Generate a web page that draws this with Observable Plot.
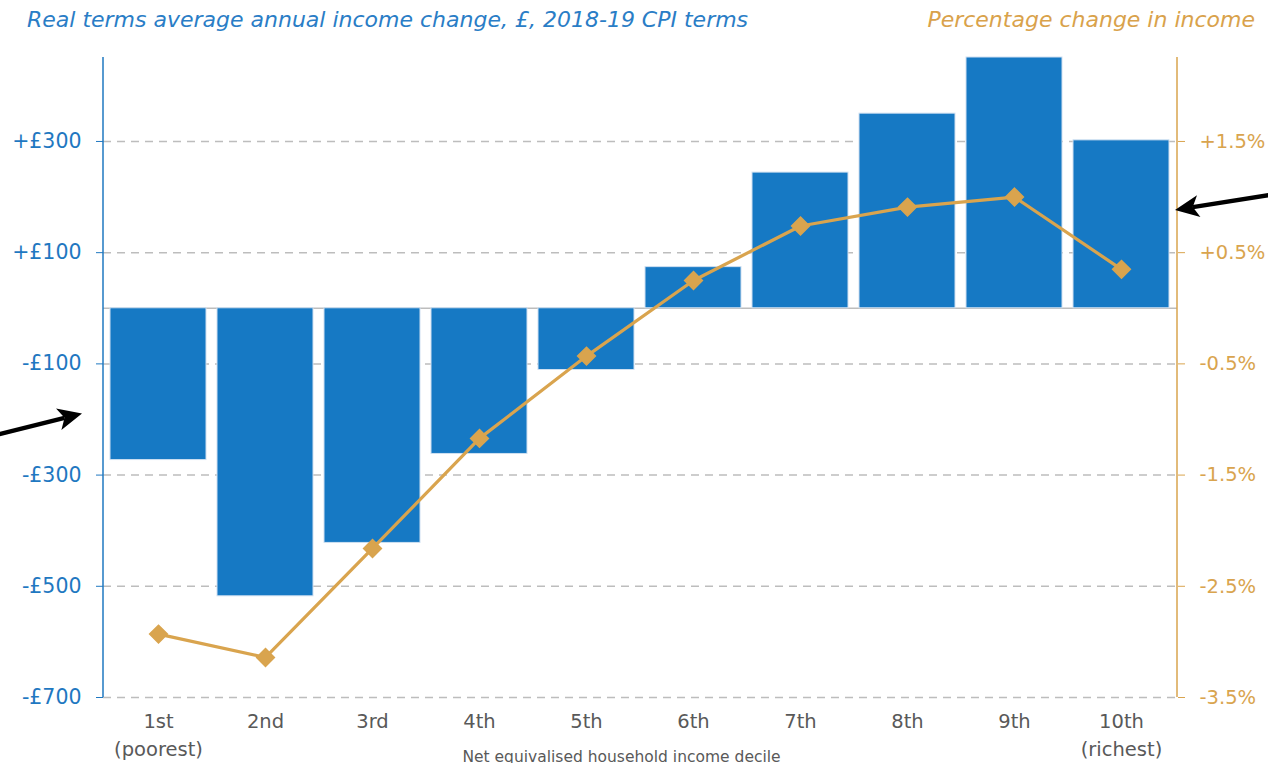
<!DOCTYPE html>
<html><head><meta charset="utf-8">
<script src="https://cdn.jsdelivr.net/npm/d3@7"></script>
<script src="https://cdn.jsdelivr.net/npm/@observablehq/plot@0.6"></script>
<style>
body{margin:0;background:#fff;font-family:"DejaVu Sans",sans-serif;overflow:hidden;}
#header{position:relative;height:40px;width:1268px;}
.t{position:absolute;top:7px;font-style:italic;font-size:22px;white-space:nowrap;line-height:26px;}
#tl{left:27px;color:#2A7DC6;}
#tr{right:13px;color:#D9A24B;}
</style></head><body>
<div id="header"><div class="t" id="tl">Real terms average annual income change, £, 2018-19 CPI terms</div><div class="t" id="tr">Percentage change in income</div></div>
<div id="chart"></div>
<script>
const deciles = ["1st","2nd","3rd","4th","5th","6th","7th","8th","9th","10th"];
const decileLabels = ["1st\n(poorest)","2nd","3rd","4th","5th","6th","7th","8th","9th","10th\n(richest)"];
const poundChange = [-273,-518,-422,-262,-111,74,244,350,451,302];
const pctChange = [-2.93,-3.14,-2.16,-1.17,-0.43,0.25,0.74,0.91,1.0,0.35];
const poundTicks = [-700,-500,-300,-100,100,300];
const pctTicks = [-3.5,-2.5,-1.5,-0.5,0.5,1.5];
const poundPerPct = 200; // right axis: 1% corresponds to £200 on the left axis
const arrowNotes = [
  {side:"left", fromPound:-228, toPound:-190},
  {side:"right", fromPound:203, toPound:176}
];

const rows = deciles.map((d,i)=>({decile:d, pound:poundChange[i], pct:pctChange[i]}));
const blue = "#1679C4", gold = "#D9A44E", axisBlue = "#1F78C1", grey = "#595959";

const chart = Plot.plot({
  width:1268, height:723, marginTop:17, marginBottom:66, marginLeft:103, marginRight:91,
  style:{fontFamily:"DejaVu Sans", background:"white", overflow:"visible"},
  x:{domain:deciles, paddingInner:0.1, paddingOuter:0.05, axis:null},
  y:{domain:[-700,451], axis:null},
  marks:[
    Plot.ruleY(poundTicks,{stroke:"#BDBDBD", strokeWidth:1.5, strokeDasharray:"8,6"}),
    Plot.ruleY([0],{stroke:"#BDBDBD", strokeWidth:1.5}),
    Plot.barY(rows,{x:"decile", y:"pound", fill:blue, stroke:"#cfe0f1", strokeWidth:1}),
    Plot.line(rows,{x:"decile", y:d=>d.pct*poundPerPct, stroke:gold, strokeWidth:3.2}),
    Plot.dot(rows,{x:"decile", y:d=>d.pct*poundPerPct, symbol:"diamond2", r:8, fill:gold, stroke:gold}),
    Plot.axisY({ticks:poundTicks, anchor:"left", tickFormat:v=>(v>0?"+":"-")+"£"+Math.abs(v), color:axisBlue, fontSize:20.5, tickSize:7, tickPadding:15, label:null}),
    Plot.axisY({ticks:pctTicks.map(p=>p*poundPerPct), anchor:"right", tickFormat:v=>(v>0?"+":"-")+Math.abs(v/poundPerPct).toFixed(1)+"%", color:gold, fontSize:19.5, tickSize:7, tickPadding:15, label:null}),
    Plot.axisX({tickFormat:d=>decileLabels[deciles.indexOf(d)], tickSize:0, tickPadding:11, fontSize:19.5, color:grey, label:null, lineHeight:1.42}),
    Plot.text(["Net equivalised household income decile"],{frameAnchor:"bottom", dy:64, dx:-19, fontSize:15.5, fill:grey})
  ]
});
document.getElementById("chart").appendChild(chart);

// axis lines and annotation arrows, positioned through the chart's y scale
const svg = d3.select(chart);
const sy = chart.scale("y");
const [yBottom, yTop] = sy.range;
const W = 1268, mL = 103, mR = 91;
svg.append("line").attr("x1",mL).attr("x2",mL).attr("y1",yTop).attr("y2",yBottom).attr("stroke",axisBlue).attr("stroke-width",1.5);
svg.append("line").attr("x1",W-mR).attr("x2",W-mR).attr("y1",yTop).attr("y2",yBottom).attr("stroke",gold).attr("stroke-width",1.5);

for (const a of arrowNotes) {
  const x1 = a.side==="left" ? -2 : W+2;
  const x2 = a.side==="left" ? mL-21 : W-mR-2;
  const y1 = sy.apply(a.fromPound), y2 = sy.apply(a.toPound);
  const ang = Math.atan2(y2-y1, x2-x1);
  const L = 24, Wd = 11;
  const bx = x2 - L*Math.cos(ang), by = y2 - L*Math.sin(ang);
  svg.append("line").attr("x1",x1).attr("y1",y1).attr("x2",bx+6*Math.cos(ang)).attr("y2",by+6*Math.sin(ang)).attr("stroke","#000").attr("stroke-width",4.5);
  const px = -Math.sin(ang), py = Math.cos(ang);
  svg.append("polygon").attr("points",[[x2,y2],[bx+px*Wd,by+py*Wd],[bx+L*0.25*Math.cos(ang),by+L*0.25*Math.sin(ang)],[bx-px*Wd,by-py*Wd]].map(p=>p.join(",")).join(" ")).attr("fill","#000");
}
</script>
</body></html>
